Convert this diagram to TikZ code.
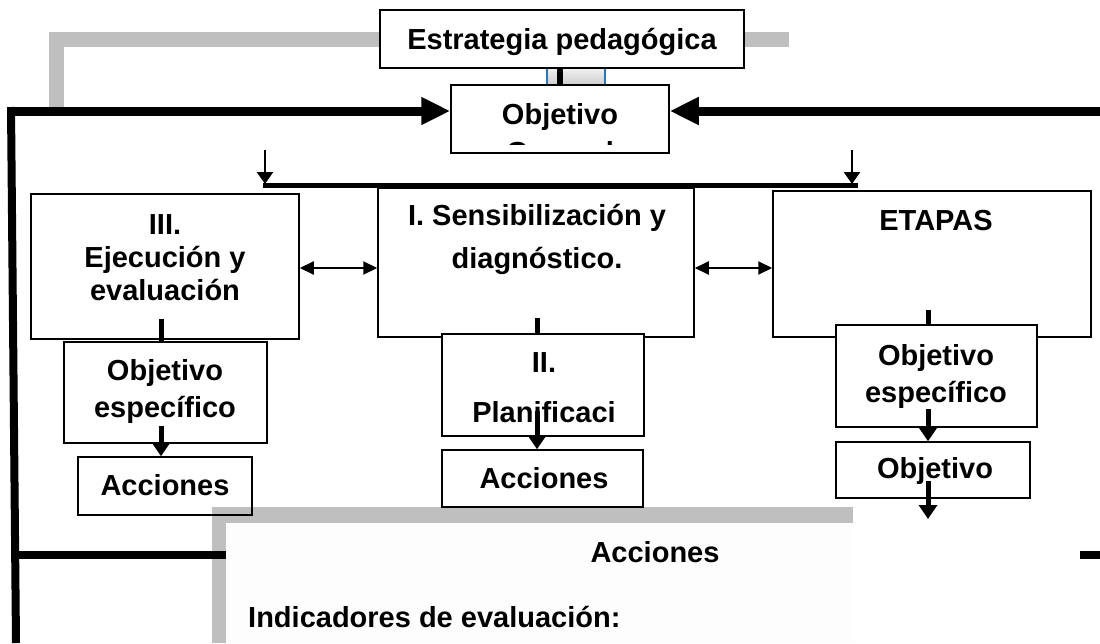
\documentclass[tikz,border=0pt]{standalone}
\usepackage{fontspec}
\setmainfont{Liberation Sans}
\usetikzlibrary{arrows.meta}
\definecolor{grayline}{RGB}{191,191,191}
\definecolor{panelbg}{RGB}{253,253,253}
\definecolor{edgeblue}{RGB}{46,117,182}
\pgfdeclarelayer{bottom}
\pgfdeclarelayer{back}
\pgfsetlayers{bottom,back,main}
\tikzset{
 box/.style={draw=black, line width=1.5pt, fill=white, inner sep=0pt},
 openbox/.style={draw=black, line width=1.5pt, inner sep=0pt},
 txt/.style={font=\fontsize{29}{33}\selectfont\bfseries, inner sep=0pt, anchor=base, align=center},
 bigarrow/.style={line width=9pt, -{Triangle[length=29pt,width=26pt]}},
 thinarrow/.style={line width=2.5pt, -{Triangle[length=12pt,width=16pt]}},
 midarrow/.style={line width=5pt, -{Triangle[length=14pt,width=18pt]}},
 dblarrow/.style={line width=2pt, {Triangle[length=14pt,width=13pt]}-{Triangle[length=14pt,width=13pt]}},
 stem/.style={line width=5pt},
 grayband/.style={draw=grayline, line width=15pt},
 blackband/.style={draw=black, line width=8pt},
}
\begin{document}
\begin{tikzpicture}[x=1pt,y=-1pt]
\useasboundingbox (0,0) rectangle (1100,643);
\begin{pgfonlayer}{bottom}
\fill[white] (0,0) rectangle (1100,643);
\end{pgfonlayer}

% ---- top boxes
\node[box, minimum width=364pt, minimum height=58pt] (estr) at (562,39) {};
\node[txt] (estrT) at (562,49) {Estrategia pedagógica};
\node[box, minimum width=218pt, minimum height=68pt] (obj) at (560,119) {};
\node[txt] (objT) at (560,124) {Objetivo};
\begin{scope}
\clip (obj.north west) rectangle ([yshift=9pt]obj.south east);
\node[txt] (genT) at (560,162) {General};
\end{scope}

% ---- stage boxes
\node[box, minimum width=268pt, minimum height=145pt] (ejec) at (165,266.5) {};
\node[txt] (ejecT) at (165,300) {III.\\Ejecución y\\evaluación};
\node[box, minimum width=316pt, minimum height=149pt] (sens) at (536,262.5) {};
\node[txt] (sensT) at (537,268) {I. Sensibilización y\\[10pt]diagnóstico.};
\node[box, minimum width=318pt, minimum height=146pt] (etapas) at (932,264) {};
\node[txt] (etapasT) at (936,230) {ETAPAS};

% ---- lower boxes
\node[box, minimum width=203pt, minimum height=101pt] (objL) at (165.5,392.5) {};
\node[txt] (objLT) at (165,417) {Objetivo\\[4pt]específico};
\node[openbox, minimum width=174pt, minimum height=58pt] (accL) at (165,486) {};
\node[txt] (accLT) at (165,495) {Acciones};

\node[box, minimum width=202pt, minimum height=102pt] (plan) at (543,385) {};
\node[txt] (planT) at (544,422) {II.\\[17pt]Planificaci};
\node[openbox, minimum width=201pt, minimum height=57pt] (accM) at (542.5,478.5) {};
\node[txt] (accMT) at (544,488) {Acciones};

\node[box, minimum width=201pt, minimum height=102pt] (objR) at (936.5,376) {};
\node[txt] (objRT) at (936,402) {Objetivo\\[4pt]específico};
\node[openbox, minimum width=194pt, minimum height=56pt] (objR2) at (933,470) {};
\node[txt] (objR2T) at (935,478) {Objetivo};

% ---- bottom panel
\node[fill=panelbg, inner sep=0pt, minimum width=627pt, minimum height=120pt, anchor=north west] (panel) at (226,523) {};
\node[txt] (panelT) at (655,562) {Acciones};
\node[txt, anchor=base west] (indT) at (248,627) {Indicadores de evaluación:};

% ---- background connectors
\begin{pgfonlayer}{back}
\coordinate (gl) at (56,107);
\coordinate (gr) at (789,39);
\draw[grayband] (estr.west) -- (estr.west -| gl) -- (gl);
\draw[grayband] (estr.east) -- (gr);
\shade[top color=gray!12, bottom color=gray!38] (estr.south -| 547,0) rectangle (obj.north -| 605,0);
\draw[edgeblue, line width=1.2pt] (estr.south -| 547,0) -- (obj.north -| 547,0);
\draw[edgeblue, line width=1.2pt] (estr.south -| 605,0) -- (obj.north -| 605,0);
\fill[grayline] ([xshift=-14pt,yshift=16pt]panel.north west) rectangle (panel.north east);
\fill[grayline] ([xshift=-14pt,yshift=16pt]panel.north west) rectangle (panel.south west);
\end{pgfonlayer}

% ---- link Estrategia -> Objetivo
\coordinate (cb) at (559.5,0);
\draw[line width=6pt] (cb |- estr.south) -- (cb |- obj.north);

% ---- big frame lines
\coordinate (tl) at (11,111);
\coordinate (tr) at (1100,111);
\draw[bigarrow] (tl) -- (tl -| obj.west);
\draw[bigarrow] (tr) -- (tr -| obj.east);
\coordinate (vtop) at (11,107);
\coordinate (vbot) at (16,643);
\draw[blackband] (vtop) -- (vbot);
\coordinate (hb) at (15,555);
\draw[blackband] (hb) -- (hb -| panel.west);
\coordinate (rs1) at (1080,555);
\coordinate (rs2) at (1100,555);
\draw[blackband] (rs1) -- (rs2);

% ---- middle bar with arrows
\coordinate (m1) at (263,185);
\coordinate (m2) at (858,185);
\draw[line width=5pt] (m1) -- (m2);
\coordinate (a1) at (265,150);
\coordinate (a1e) at (265,184);
\coordinate (a2) at (852,150);
\coordinate (a2e) at (852,184);
\draw[thinarrow] (a1) -- (a1e);
\draw[thinarrow] (a2) -- (a2e);

% ---- double arrows
\coordinate (d1) at (0,268);
\draw[dblarrow] (d1 -| ejec.east) -- (d1 -| sens.west);
\draw[dblarrow] (d1 -| sens.east) -- (d1 -| etapas.west);

% ---- stems and arrows
\draw[stem] ([xshift=-4.5pt,yshift=22pt]objL.north) -- ([xshift=-4.5pt]objL.north);
\draw[midarrow] ([xshift=-4.5pt,yshift=18pt]objL.south) -- ([xshift=-4pt]accL.north);
\draw[stem] ([xshift=-6pt,yshift=15pt]plan.north) -- ([xshift=-6pt]plan.north);
\draw[midarrow] ([xshift=-6pt,yshift=26pt]plan.south) -- ([xshift=-5.5pt]accM.north);
\draw[stem] ([xshift=-8.5pt,yshift=14pt]objR.north) -- ([xshift=-8.5pt]objR.north);
\draw[midarrow] ([xshift=-8.5pt,yshift=19pt]objR.south) -- ([xshift=-5pt]objR2.north);
\coordinate (endR) at (928,519);
\draw[midarrow] ([xshift=-5pt,yshift=18pt]objR2.south) -- (endR);
\end{tikzpicture}
\end{document}
